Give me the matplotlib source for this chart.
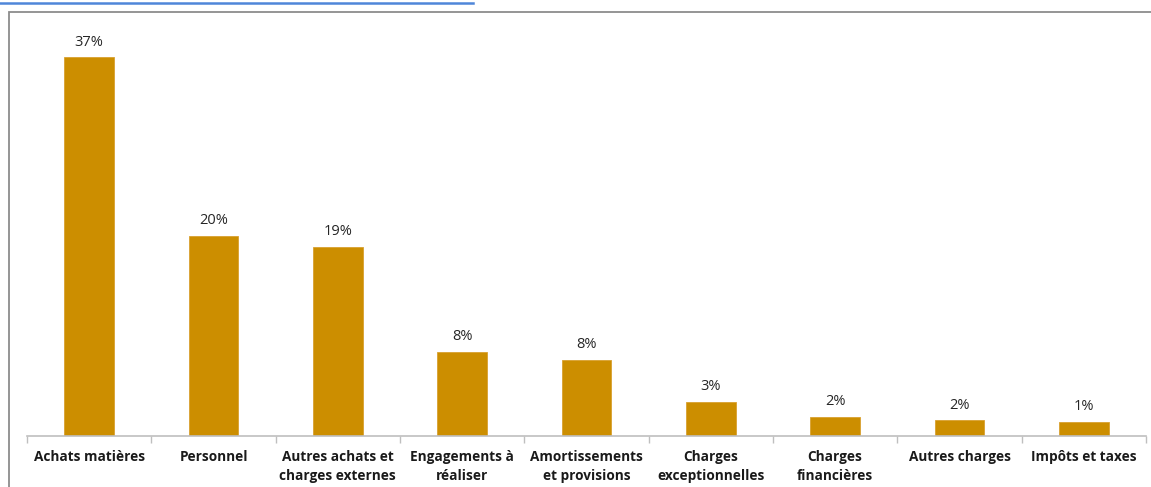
import matplotlib
matplotlib.use("Agg")
import matplotlib.pyplot as plt
from matplotlib.patches import Rectangle
from matplotlib.lines import Line2D

# Répartition des charges (en % du total)
categories = [
    "Achats matières",
    "Personnel",
    "Autres achats et\ncharges externes",
    "Engagements à\nréaliser",
    "Amortissements\net provisions",
    "Charges\nexceptionnelles",
    "Charges\nfinancières",
    "Autres charges",
    "Impôts et taxes",
]
shares = [37.4, 19.8, 18.7, 8.3, 7.55, 3.4, 1.9, 1.55, 1.4]

W, H = 1151, 487
fig = plt.figure(figsize=(W / 100, H / 100), dpi=100)
fig.patch.set_facecolor("white")

# Axes placement in pixel terms
left_px, right_px = 27, 1146
base_px, top_px = 436, 31
ax = fig.add_axes([left_px / W, (H - base_px) / H,
                   (right_px - left_px) / W, (base_px - top_px) / H])

bar_color = "#CC8E00"
x = list(range(len(categories)))
bars = ax.bar(x, shares, width=0.4, color=bar_color, edgecolor="#D9A030",
              linewidth=0.6, zorder=2)

for xi, v in zip(x, shares):
    ax.annotate(f"{round(v):d}%", xy=(xi, v), xytext=(0, 5.5),
                textcoords="offset points", ha="center", va="bottom",
                fontsize=10.5, family="Open Sans", color="#262626")

ax.set_xlim(-0.5, len(categories) - 0.5)
ax.set_ylim(0, 40)
ax.set_yticks([])

for side in ("top", "right", "left"):
    ax.spines[side].set_visible(False)
ax.spines["bottom"].set_color("#BFBFBF")
ax.spines["bottom"].set_linewidth(1.2)

# Category boundaries as tick marks, labels centred under each bar
ax.set_xticks([i - 0.5 for i in range(len(categories) + 1)], minor=True)
ax.tick_params(axis="x", which="minor", length=5, width=1.0, color="#BFBFBF",
               direction="out")
ax.set_xticks(x)
ax.set_xticklabels(categories, fontsize=9.8, fontweight="bold",
                   family="Open Sans", color="#1a1a1a", linespacing=1.45)
ax.tick_params(axis="x", which="major", length=0, pad=10)

# Outer frame of the chart area
fig.add_artist(Rectangle((9 / W, -0.2), 1.5, 1 - 12 / H + 0.2,
                         transform=fig.transFigure, fill=False,
                         edgecolor="#8C8C8C", linewidth=1.3, clip_on=False))

# Underline of the heading link above the frame
fig.add_artist(Line2D([0, 473 / W], [1 - 2.5 / H, 1 - 2.5 / H],
                      transform=fig.transFigure, color="#4F86D9",
                      linewidth=1.8))

fig.savefig("out.png", dpi=100, facecolor="white")
